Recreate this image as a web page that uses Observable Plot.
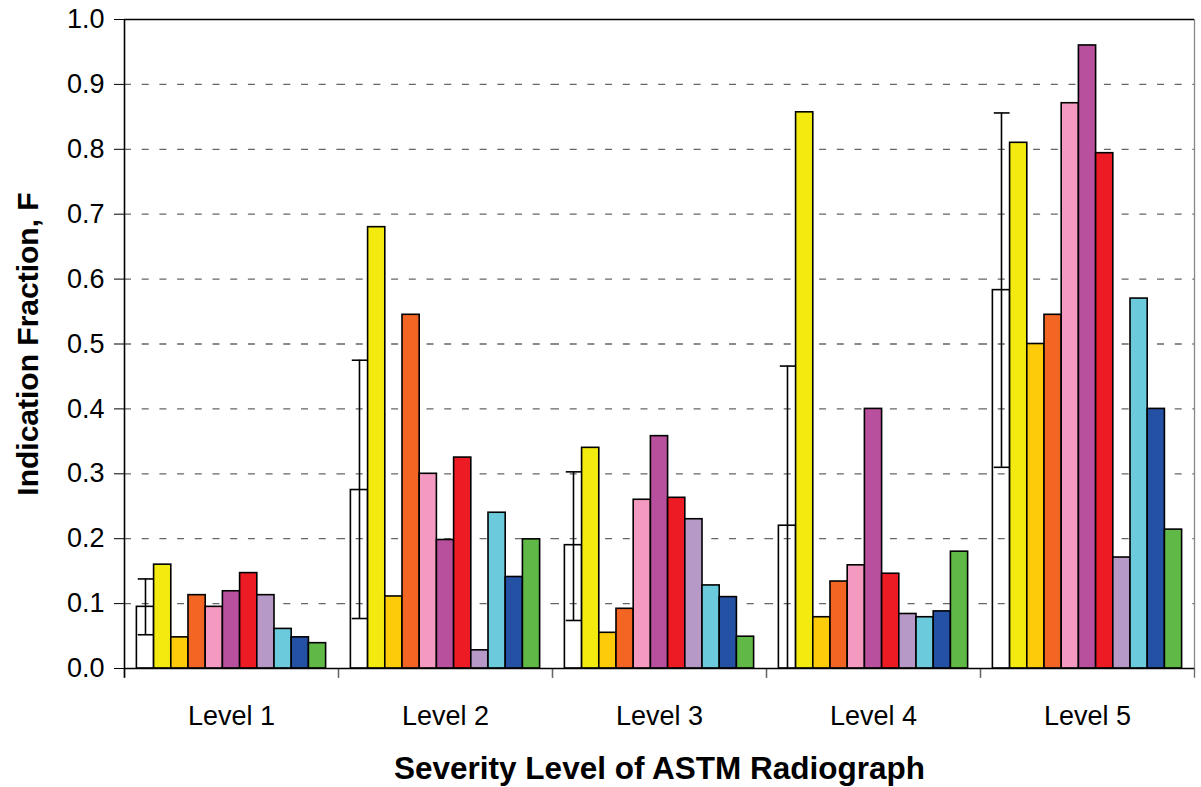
<!DOCTYPE html>
<html>
<head>
<meta charset="utf-8">
<script src="https://cdn.jsdelivr.net/npm/d3@7"></script>
<script src="https://cdn.jsdelivr.net/npm/@observablehq/plot@0.6"></script>
<style>
  html, body { margin: 0; padding: 0; background: #fff; }
  #chart svg text { font-family: "Liberation Sans", Arial, sans-serif; }
  g[aria-label="y-axis label"] text { font-weight: bold; font-size: 30px; }
  g[aria-label="fx-axis label"] text { font-weight: bold; font-size: 31.5px; }
</style>
</head>
<body>
<div id="chart"></div>
<script>
// ---- data ----
const levels = ["Level 1", "Level 2", "Level 3", "Level 4", "Level 5"];
const seriesNames = ["Series 1", "Series 2", "Series 3", "Series 4", "Series 5", "Series 6",
                     "Series 7", "Series 8", "Series 9", "Series 10", "Series 11"];
const seriesColors = ["none", "#F3EA10", "#FDCB0A", "#F26522", "#F49AC1", "#B9509E",
                      "#ED1C24", "#B799C8", "#6BCBDC", "#2451A4", "#60B946"];
// values per series, one per level
const s1  = [0.095, 0.275, 0.190, 0.220, 0.583];
const s1Lo = [0.052, 0.077, 0.074, 0.000, 0.310];
const s1Hi = [0.138, 0.475, 0.303, 0.466, 0.856];
const s2  = [0.160, 0.680, 0.340, 0.857, 0.810];
const s3  = [0.048, 0.111, 0.055, 0.079, 0.500];
const s4  = [0.113, 0.545, 0.092, 0.134, 0.545];
const s5  = [0.095, 0.300, 0.260, 0.159, 0.871];
const s6  = [0.119, 0.198, 0.358, 0.400, 0.960];
const s7  = [0.147, 0.325, 0.263, 0.146, 0.794];
const s8  = [0.113, 0.028, 0.230, 0.084, 0.171];
const s9  = [0.061, 0.240, 0.128, 0.079, 0.570];
const s10 = [0.048, 0.141, 0.110, 0.088, 0.400];
const s11 = [0.039, 0.199, 0.049, 0.180, 0.214];
const yTicks = [0, 0.1, 0.2, 0.3, 0.4, 0.5, 0.6, 0.7, 0.8, 0.9, 1.0];
const gridTicks = [0.1, 0.2, 0.3, 0.4, 0.5, 0.6, 0.7, 0.8, 0.9];

// ---- table ----
const allSeries = [s1, s2, s3, s4, s5, s6, s7, s8, s9, s10, s11];
const rows = [];
levels.forEach((level, li) => {
  allSeries.forEach((vals, si) => {
    rows.push({level, series: seriesNames[si], i: si, value: vals[li],
               lo: si === 0 ? s1Lo[li] : null, hi: si === 0 ? s1Hi[li] : null});
  });
});
const errRows = rows.filter(d => d.hi != null);
const xDomain = [-0.72, seriesNames.length + 0.72];

const chart = Plot.plot({
  width: 1201,
  height: 787,
  marginLeft: 122,
  marginRight: 6,
  marginTop: 19,
  marginBottom: 119,
  style: {fontSize: "27px", fontFamily: "'Liberation Sans', Arial, sans-serif", background: "white", color: "black"},
  fx: {domain: levels, padding: 0, axis: "bottom", tickSize: 0, tickPadding: 37,
       label: "Severity Level of ASTM Radiograph", labelAnchor: "center", labelOffset: 110, labelArrow: "none"},
  x: {domain: xDomain, axis: null},
  y: {domain: [0, 1], ticks: yTicks, tickFormat: ".1f", tickSize: 10, tickPadding: 10,
      label: "Indication Fraction, F", labelAnchor: "center", labelOffset: 108, labelArrow: "none"},
  color: {domain: seriesNames, range: seriesColors},
  marks: [
    Plot.ruleY(gridTicks, {stroke: "#666", strokeWidth: 1.3, strokeDasharray: "7,10.7"}),
    Plot.rect(rows, {fx: "level", x1: d => d.i, x2: d => d.i + 1, y1: 0, y2: "value",
                     fill: "series", stroke: "black", strokeWidth: 1.6}),
    Plot.ruleX(errRows, {fx: "level", x: d => d.i + 0.5, y1: "lo", y2: "hi", stroke: "black", strokeWidth: 1.6}),
    Plot.ruleY(errRows, {fx: "level", y: "hi", x1: d => d.i + 0.08, x2: d => d.i + 1, stroke: "black", strokeWidth: 1.6}),
    Plot.ruleY(errRows.filter(d => d.lo > 0), {fx: "level", y: "lo", x1: d => d.i + 0.08, x2: d => d.i + 1, stroke: "black", strokeWidth: 1.6}),
    Plot.ruleX(xDomain, {x: d => d, y1: 0, y2: -0.015, stroke: "#666", strokeWidth: 1.3}),
    Plot.ruleX([{level: "Level 5"}], {fx: "level", x: () => xDomain[1], y1: 0, y2: 1, stroke: "#888", strokeWidth: 1.3}),
    Plot.ruleX([{level: "Level 1"}], {fx: "level", x: () => xDomain[0], y1: -0.015, y2: 1, stroke: "black", strokeWidth: 1.6}),
    Plot.ruleY([0], {stroke: "black", strokeWidth: 1.6}),
    Plot.ruleY([1], {stroke: "black", strokeWidth: 1.3})
  ]
});
document.getElementById("chart").appendChild(chart);
</script>
</body>
</html>
